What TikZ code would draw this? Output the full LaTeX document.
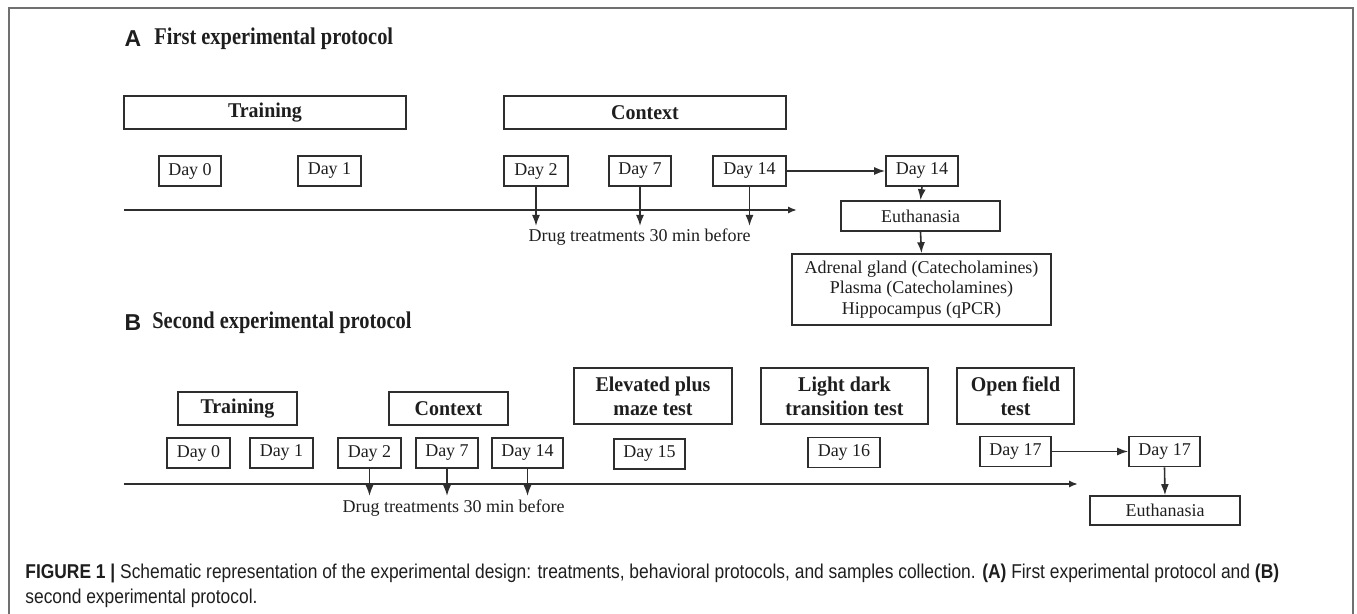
\documentclass[tikz,border=0pt]{standalone}
\usepackage{fontspec}
\setmainfont{Liberation Serif}
\newfontfamily\labfont{Liberation Sans}
\newfontfamily\capfont[FakeStretch=0.87]{Liberation Sans}
\newfontfamily\condserif[FakeStretch=0.85]{Liberation Serif}
\newfontfamily\boxserif[FakeStretch=0.95]{Liberation Serif}
\usetikzlibrary{arrows.meta}
\definecolor{ink}{HTML}{1E1E1E}
\definecolor{boxline}{HTML}{2E2E2E}
\definecolor{framegray}{HTML}{707070}
\begin{document}
\begin{tikzpicture}[x=0.5pt,y=-0.5pt,
  box/.style={draw=boxline, line width=0.8pt, inner sep=0pt, align=center, text=ink},
  daybox/.style={box, font=\fontsize{9}{10}\selectfont, minimum height=15pt},
  titlebox/.style={box, font=\boxserif\bfseries\fontsize{10.5}{12}\selectfont, minimum height=16.5pt},
  testbox/.style={box, font=\boxserif\bfseries\fontsize{10.5}{12}\selectfont, minimum height=28pt},
  plain/.style={inner sep=0pt, text=ink, font=\fontsize{9}{10}\selectfont},
  panellab/.style={inner sep=0pt, text=ink, font=\labfont\bfseries\fontsize{11.5}{13}\selectfont},
  paneltitle/.style={inner sep=0pt, anchor=west, text=ink, font=\condserif\bfseries\fontsize{12}{14}\selectfont},
  arr/.style={draw=boxline, line width=0.8pt, -{Latex[length=5.5pt,width=4pt]}},
  axis/.style={draw=boxline, line width=1pt, -{Latex[length=4.5pt,width=3.6pt]}},
  captext/.style={inner sep=0pt, anchor=base west, text=ink, font=\capfont\fontsize{10}{11}\selectfont}
]
\useasboundingbox (0,0) rectangle (1357,614);
\draw[framegray, line width=1pt] (9,614) -- (9,8) -- (1353,8) -- (1353,614);

% ---------- Panel A ----------
\node[panellab] (Alab) at (133,39) {A};
\node[paneltitle] (Atitle) at (154,39) {First experimental protocol};

\node[titlebox, minimum width=141pt] (TrainA) at (265,112.5) {Training};
\node[titlebox, minimum width=141pt] (ContextA) at (645,112.5) {Context};

\node[daybox, minimum width=31pt] (D0A) at (190,171) {Day 0};
\node[daybox, minimum width=31.5pt] (D1A) at (329.5,171) {Day 1};
\node[daybox, minimum width=32pt] (D2A) at (536,171) {Day 2};
\node[daybox, minimum width=31pt] (D7A) at (640,171) {Day 7};
\node[daybox, minimum width=36.5pt] (D14A) at (749.5,171) {Day 14};
\node[daybox, minimum width=36pt] (D14A2) at (922,171) {Day 14};

\coordinate (AxAs) at (124,210);
\coordinate (AxAe) at (797,210);
\draw[axis] (AxAs) -- (AxAe);

\coordinate (T2A) at (536,226);
\coordinate (T7A) at (640,226);
\coordinate (T14A) at (749.5,226);
\draw[arr] (D2A.south) -- (T2A);
\draw[arr] (D7A.south) -- (T7A);
\draw[arr] (D14A.south) -- (T14A);
\node[plain] (DrugA) at (639.5,237) {Drug treatments 30 min before};

\draw[arr] (D14A.east) -- (D14A2.west);
\node[daybox, minimum width=79.5pt] (EuthA) at (920.5,216) {Euthanasia};
\draw[arr] (D14A2.south) -- (EuthA.north);
\node[box, minimum width=129.5pt, minimum height=35.5pt, font=\fontsize{9}{10.35}\selectfont] (ResA) at (921.5,289.5)
  {Adrenal gland (Catecholamines)\\Plasma (Catecholamines)\\Hippocampus (qPCR)};
\draw[arr] (EuthA.south) -- (ResA.north);

% ---------- Panel B ----------
\node[panellab] (Blab) at (133,323) {B};
\node[paneltitle] (Btitle) at (152,323) {Second experimental protocol};

\node[titlebox, minimum width=59.5pt] (TrainB) at (237.5,408.5) {Training};
\node[titlebox, minimum width=59.5pt] (ContextB) at (448.5,408.5) {Context};
\node[testbox, minimum width=79pt] (ElevB) at (653,396) {Elevated plus\\maze test};
\node[testbox, minimum width=83.5pt] (LightB) at (844.5,396) {Light dark\\transition test};
\node[testbox, minimum width=58.5pt] (OpenB) at (1015.5,396) {Open field\\test};

\node[daybox, minimum width=31.5pt] (D0B) at (198.5,453) {Day 0};
\node[daybox, minimum width=31.5pt] (D1B) at (281.5,453) {Day 1};
\node[daybox, minimum width=31.5pt] (D2B) at (369.5,453) {Day 2};
\node[daybox, minimum width=31pt] (D7B) at (447,453) {Day 7};
\node[daybox, minimum width=35.5pt] (D14B) at (527.5,453) {Day 14};
\node[daybox, minimum width=35.5pt] (D15B) at (649.5,454) {Day 15};
\node[daybox, minimum width=36pt] (D16B) at (844,452.5) {Day 16};
\node[daybox, minimum width=35.5pt] (D17B) at (1015.5,451.5) {Day 17};
\node[daybox, minimum width=35.5pt] (D17B2) at (1164.5,451.5) {Day 17};

\coordinate (AxBs) at (124,484);
\coordinate (AxBe) at (1078,484);
\draw[axis] (AxBs) -- (AxBe);

\coordinate (T2B) at (369.5,496);
\coordinate (T7B) at (447,496);
\coordinate (T14B) at (527.5,496);
\draw[arr] (D2B.south) -- (T2B);
\draw[arr] (D7B.south) -- (T7B);
\draw[arr] (D14B.south) -- (T14B);
\node[plain] (DrugB) at (453.5,508) {Drug treatments 30 min before};

\draw[arr] (D17B.east) -- (D17B2.west);
\node[daybox, minimum width=75pt, minimum height=14.5pt] (EuthB) at (1165,510.5) {Euthanasia};
\draw[arr] (D17B2.south) -- (EuthB.north);

% ---------- Caption ----------
\node[captext] (Cap1) at (25,579) {\textbf{FIGURE 1} \textbf{|} Schematic representation of the experimental design: treatments, behavioral protocols, and samples collection. \textbf{(A)} First experimental protocol and \textbf{(B)}};
\node[captext] (Cap2) at (25,604) {second experimental protocol.};
\end{tikzpicture}
\end{document}
